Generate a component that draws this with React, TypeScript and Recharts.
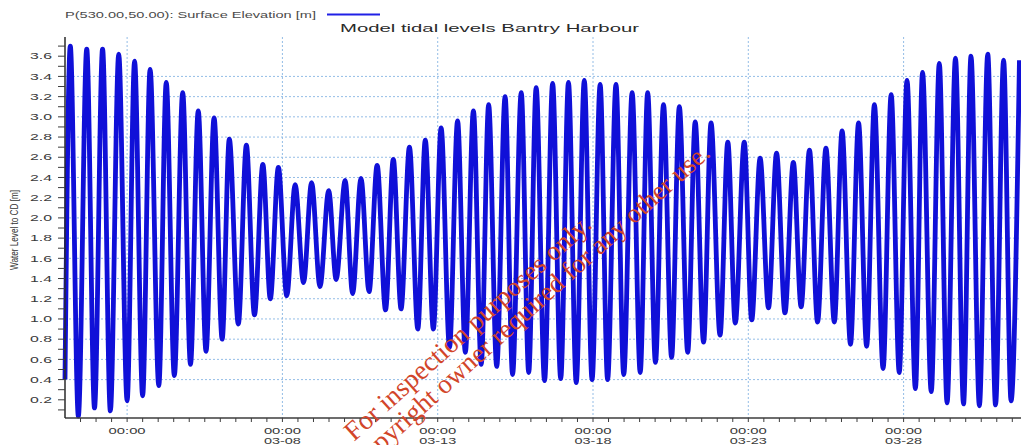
import { CartesianGrid, Line, LineChart, XAxis, YAxis } from 'recharts';

// Surface elevation at P(530.00,50.00): alternating high / low water.
// time in days after 03-01 00:00, level in metres above chart datum
const tideDay = [
  0, 0.17, 0.43, 0.7, 0.95, 1.21, 1.46, 1.73, 2.0, 2.24, 2.5, 2.74, 3.02, 3.26, 3.52, 3.79, 4.04, 4.29, 4.54, 4.8,
  5.06, 5.29, 5.58, 5.84, 6.1, 6.37, 6.61, 6.87, 7.14, 7.41, 7.68, 7.94, 8.21, 8.49, 8.73, 9.02, 9.26, 9.53, 9.79,
  10.05, 10.32, 10.57, 10.82, 11.09, 11.36, 11.6, 11.86, 12.11, 12.38, 12.64, 12.89, 13.15, 13.4, 13.64, 13.9,
  14.17, 14.41, 14.69, 14.93, 15.17, 15.44, 15.7, 15.96, 16.21, 16.46, 16.72, 16.97, 17.23, 17.47, 17.74, 17.99,
  18.26, 18.52, 18.76, 19.01, 19.27, 19.53, 19.78, 20.05, 20.29, 20.56, 20.8, 21.09, 21.34, 21.58, 21.87, 22.11,
  22.38, 22.65, 22.91, 23.18, 23.45, 23.7, 23.97, 24.23, 24.5, 24.77, 25.02, 25.29, 25.55, 25.81, 26.06, 26.34,
  26.6, 26.86, 27.11, 27.38, 27.61, 27.89, 28.15, 28.4, 28.67, 28.93, 29.17, 29.44, 29.71, 29.96, 30.22, 30.46,
  30.73,
];
const tideLevel = [
  0.4, 3.7, 0.04, 3.67, 0.12, 3.67, 0.09, 3.62, 0.19, 3.55, 0.24, 3.47, 0.34, 3.34, 0.44, 3.24, 0.55, 3.06, 0.68, 2.99,
  0.8, 2.78, 0.95, 2.72, 1.04, 2.53, 1.2, 2.5, 1.23, 2.33, 1.36, 2.35, 1.32, 2.27, 1.39, 2.37, 1.25, 2.39, 1.27,
  2.52, 1.09, 2.58, 1.1, 2.7, 0.9, 2.77, 0.9, 2.89, 0.72, 2.96, 0.67, 3.06, 0.55, 3.12, 0.53,
  3.2, 0.45, 3.24, 0.47, 3.29, 0.39, 3.33, 0.41, 3.34, 0.37, 3.36, 0.4, 3.32, 0.4, 3.32, 0.45,
  3.24, 0.47, 3.24, 0.57, 3.12, 0.62, 3.1, 0.67, 2.95, 0.77, 2.94, 0.84, 2.75, 0.96, 2.75, 0.99,
  2.59, 1.11, 2.64, 1.06, 2.55, 1.12, 2.67, 0.97, 2.69, 0.97, 2.86, 0.75, 2.94, 0.73, 3.12, 0.51,
  3.22, 0.47, 3.36, 0.31, 3.44, 0.28, 3.53, 0.17, 3.58, 0.16, 3.6, 0.14, 3.62, 0.15, 3.56, 0.19,
  3.56,
];

// labelled x ticks (days after 03-01) and their date line
const labelDays = [2, 7, 12, 17, 22, 27];
const labelDates = ['', '03-08', '03-13', '03-18', '03-23', '03-28'];

const yTicks = [
  0.1, 0.2, 0.3, 0.4, 0.5, 0.6, 0.7, 0.8, 0.9, 1.0, 1.1, 1.2, 1.3, 1.4, 1.5, 1.6, 1.7, 1.8, 1.9,
  2.0, 2.1, 2.2, 2.3, 2.4, 2.5, 2.6, 2.7, 2.8, 2.9, 3.0, 3.1, 3.2, 3.3, 3.4, 3.5, 3.6, 3.7,
];
const gridLevels = [0.4, 0.6, 0.8, 1.0, 1.2, 1.4, 1.6, 1.8, 2.0, 2.2, 2.4, 2.6, 2.8, 3.0, 3.2, 3.4];

const X_MAX = 30.78;
const LINE_BLUE = '#1010d8';
const TEXT = '#3a3a3a';
const FONT = '"Liberation Sans", Arial, sans-serif';

// minor ticks every 12 hours
const xTicks = Array.from({ length: 61 }, (_, i) => (i + 1) / 2);

const data = tideDay.map((d, i) => ({ day: d, level: tideLevel[i] }));

function YTick({ x, y, payload }: { x?: number; y?: number; payload?: { value: number } }) {
  if (x === undefined || y === undefined || !payload) return <g />;
  const v = payload.value;
  if (Math.round(v * 10) % 2 !== 0) return <g />;
  return (
    <text
      x={x}
      y={y}
      dy={3.2}
      textAnchor="end"
      fontSize={9}
      fontFamily={FONT}
      fill={TEXT}
      textLength={22}
      lengthAdjust="spacingAndGlyphs"
    >
      {v.toFixed(1)}
    </text>
  );
}

function XTick({ x, y, payload }: { x?: number; y?: number; payload?: { value: number } }) {
  if (x === undefined || y === undefined || !payload) return <g />;
  const idx = labelDays.indexOf(payload.value);
  if (idx < 0) return <g />;
  return (
    <g fontSize={9} fontFamily={FONT} fill={TEXT}>
      <text x={x - 18.5} y={y + 10} textLength={37} lengthAdjust="spacingAndGlyphs">
        00:00
      </text>
      {labelDates[idx] && (
        <text x={x - 18.5} y={y + 19.5} textLength={37} lengthAdjust="spacingAndGlyphs">
          {labelDates[idx]}
        </text>
      )}
    </g>
  );
}

export default function App() {
  return (
    <div style={{ position: 'absolute', left: 0, top: 0, width: 1021, height: 445, background: '#fff', overflow: 'hidden' }}>
      <LineChart width={1021} height={445} data={data} margin={{ top: 37, right: 0, bottom: 0, left: 0 }}>
        <CartesianGrid
          stroke="#94bde6"
          strokeDasharray="2 2"
          horizontalValues={gridLevels}
          verticalValues={labelDays}
        />
        <XAxis
          dataKey="day"
          type="number"
          domain={[0, X_MAX]}
          ticks={xTicks}
          interval={0}
          height={27}
          tickSize={4}
          tickMargin={2}
          tick={<XTick />}
          axisLine={{ stroke: '#3c3c3c', strokeWidth: 1.5 }}
          tickLine={{ stroke: '#3c3c3c' }}
        />
        <XAxis
          xAxisId="top"
          dataKey="day"
          type="number"
          orientation="top"
          domain={[0, X_MAX]}
          height={0}
          tick={false}
          tickLine={false}
          axisLine={{ stroke: '#5a5a5a', strokeWidth: 1.5 }}
        />
        <YAxis
          type="number"
          domain={[0.02, 3.79]}
          ticks={yTicks}
          interval={0}
          width={65}
          tickSize={7}
          tickMargin={6}
          tick={<YTick />}
          axisLine={{ stroke: '#2a2a2a', strokeWidth: 1.5 }}
          tickLine={{ stroke: '#3c3c3c' }}
        />
        <Line
          type="monotone"
          dataKey="level"
          stroke={LINE_BLUE}
          strokeWidth={4.8}
          dot={false}
          activeDot={false}
          isAnimationActive={false}
        />
      </LineChart>

      <svg
        width={1021}
        height={445}
        style={{ position: 'absolute', left: 0, top: 0, pointerEvents: 'none' }}
      >
        <text x={65} y={18.3} fontSize={9.5} fontFamily={FONT} fill="#4a4a4a" textLength={251} lengthAdjust="spacingAndGlyphs">
          P(530.00,50.00): Surface Elevation [m]
        </text>
        <line x1={327} x2={380} y1={14.5} y2={14.5} stroke="#2020e6" strokeWidth={2} />
        <text x={340} y={31.5} fontSize={11.8} fontFamily={FONT} fill="#2a2a2a" textLength={299} lengthAdjust="spacingAndGlyphs">
          Model tidal levels Bantry Harbour
        </text>
        <text
          transform="translate(18,230) rotate(-90)"
          textAnchor="middle"
          fontSize={10.5}
          fontFamily={FONT}
          fill="#333"
          textLength={80}
          lengthAdjust="spacingAndGlyphs"
        >
          Water Level to CD [m]
        </text>
        <g transform="translate(354,442) rotate(-42)" fontFamily='"Liberation Serif", "Times New Roman", serif' fontSize={27} fill="#d2452a">
          <text x={0} y={0} textLength={322} lengthAdjust="spacingAndGlyphs">
            For inspection purposes only.
          </text>
          <text x={458} y={26} textAnchor="end">
            Consent of copyright owner required for any other use.
          </text>
        </g>
      </svg>
    </div>
  );
}
